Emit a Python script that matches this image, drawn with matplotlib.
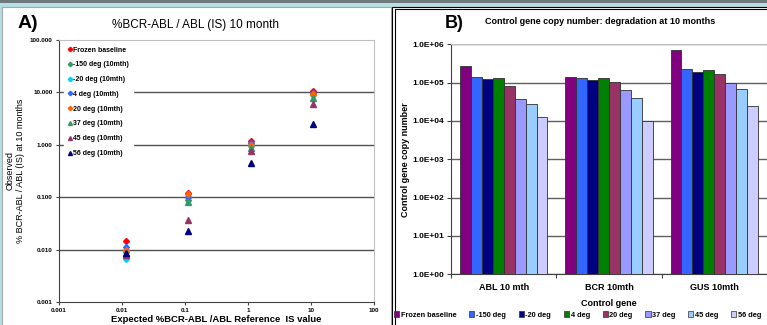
import matplotlib
matplotlib.use("Agg")
import matplotlib.pyplot as plt
from matplotlib.patches import Rectangle
import numpy as np

plt.rcParams['font.family'] = ['Liberation Sans', 'DejaVu Sans']

# ---- panel A data ----
expected = [0.0115, 0.112, 1.13, 10.6]
series_a = ['Frozen baseline', '-150 deg (10mth)', '-20 deg (10mth)', '4 deg (10mth)',
            '20 deg (10mth)', '37 deg (10mth)', '45 deg (10mth)', '56 deg (10mth)']
frozen = [0.0146, 0.119, 1.18, 10.6]
m150 = [0.0089, 0.089, 0.95, 8.9]
m20 = [0.0067, 0.100, 1.00, 9.2]
p4 = [0.0112, 0.103, 1.09, 9.6]
p20 = [0.0097, 0.116, 0.98, 9.3]
p37 = [0.0082, 0.082, 0.88, 7.7]
p45 = [0.0078, 0.036, 0.75, 5.9]
p56 = [0.0085, 0.0224, 0.445, 2.45]
obs = [frozen, m150, m20, p4, p20, p37, p45, p56]
colors_a = ['#ff0000', '#339966', '#00ccff', '#3366ff', '#ff6600', '#339966', '#993366', '#000080']
markers_a = ['D', 'D', 'D', 'D', 'D', '^', '^', '^']

# ---- panel B data ----
genes = ['ABL 10 mth', 'BCR 10mth', 'GUS 10mth']
series_b = ['Frozen baseline', '-150 deg', '-20 deg', '4 deg', '20 deg', '37 deg', '45 deg', '56 deg']
abl = [2.7e5, 1.43e5, 1.22e5, 1.3e5, 8.0e4, 3.7e4, 2.7e4, 1.27e4]
bcr = [1.38e5, 1.3e5, 1.17e5, 1.35e5, 1.02e5, 6.3e4, 3.9e4, 1.0e4]
gus = [6.9e5, 2.27e5, 1.9e5, 2.2e5, 1.65e5, 1.0e5, 6.7e4, 2.45e4]
copies = np.array([abl, bcr, gus])
colors_b = ['#800080', '#3366ff', '#000080', '#008000', '#993366', '#9999ff', '#99ccff', '#ccccff']

fig = plt.figure(figsize=(7.67, 3.25), dpi=100)
fig.patch.set_facecolor('#b5dfe2')
W, H = 767.0, 325.0

def rect(x, y, w, h, fc, ec='none', lw=0):
    fig.patches.append(Rectangle((x / W, 1 - (y + h) / H), w / W, h / H, transform=fig.transFigure,
                                 facecolor=fc, edgecolor=ec, linewidth=lw, zorder=-5))

rect(0, 0, 767, 2.5, '#6e797b')
rect(1.5, 7, 389, 330, 'white', '#a8a8a8', 0.8)
rect(392, 7, 380, 330, 'white', '#000000', 0.8)
rect(394.5, 9, 380, 330, 'white', '#000000', 0.8)

# ---------------- panel A ----------------
ax = fig.add_axes([59 / W, 1 - 302 / H, 315 / W, 262 / H])
ax.set_xscale('log')
ax.set_yscale('log')
ax.set_xlim(0.001, 100)
ax.set_ylim(0.001, 100)
for v in [10, 1, 0.1, 0.01]:
    ax.axhline(v, color='#505050', lw=1.0, zorder=1)
for vals, c, m, lab in zip(obs, colors_a, markers_a, series_a):
    ax.plot(expected, vals, linestyle='none', marker=m, color=c, ms=3.0 if m == 'D' else 3.8,
            mec=c, label=lab, zorder=3)
ax.set_xticks([0.001, 0.01, 0.1, 1, 10, 100])
ax.set_xticklabels(['0.001', '0.01', '0.1', '1', '10', '100'])
ax.set_yticks([0.001, 0.01, 0.1, 1, 10, 100])
ax.set_yticklabels(['0.001', '0.010', '0.100', '1.000', '10.000', '100.000'])
ax.minorticks_off()
ax.tick_params(labelsize=4.5, length=2.5, width=0.8, pad=2, color='#404040')
for t in ax.get_xticklabels() + ax.get_yticklabels():
    t.set_fontweight('bold')
for s in ['top', 'right']:
    ax.spines[s].set_color('#c0c0c0')
for s in ['left', 'bottom']:
    ax.spines[s].set_color('#404040')
leg = ax.legend(loc='upper left', bbox_to_anchor=(0.012, 0.995), frameon=True, fancybox=False,
                edgecolor='white', framealpha=1, prop={'size': 5, 'weight': 'bold'},
                handlelength=0.5, handletextpad=0.25, labelspacing=1.12, borderpad=0.6,
                borderaxespad=0.15, markerscale=0.75)
leg.set_zorder(5)
fig.text(18 / W, 1 - 23 / H, 'A)', fontsize=14, fontweight='bold', va='center', ha='left')
fig.text(196 / W, 1 - 25 / H, '%BCR-ABL / ABL (IS) 10 month', fontsize=8.5, va='center', ha='center')
fig.text(10 / W, 1 - 171 / H, 'Observed', fontsize=6.5, rotation=90, va='center', ha='center')
fig.text(20.5 / W, 1 - 171 / H, '% BCR-ABL / ABL (IS) at 10 months', fontsize=6.5, rotation=90,
         va='center', ha='center')
fig.text(216 / W, 1 - 319 / H, 'Expected %BCR-ABL /ABL Reference  IS value', fontsize=6.8,
         fontweight='bold', va='center', ha='center')

# ---------------- panel B ----------------
bx = fig.add_axes([451 / W, 1 - 274.3 / H, 316 / W, 230 / H])
bx.set_yscale('log')
bx.set_ylim(1, 1e6)
bx.set_xlim(0, 3)
bw = 0.104
for i, (col, lab) in enumerate(zip(colors_b, series_b)):
    xs = np.arange(len(genes)) + 0.5 + (i - 3.5) * bw
    bx.bar(xs, copies[:, i], width=bw, bottom=1, color=col, edgecolor='#303030', linewidth=0.6,
           label=lab, zorder=3)
bx.yaxis.grid(True, color='#606060', lw=1.0, zorder=0)
bx.set_axisbelow(True)
bx.set_yticks([1, 10, 100, 1e3, 1e4, 1e5, 1e6])
bx.set_yticklabels(['1.0E+00', '1.0E+01', '1.0E+02', '1.0E+03', '1.0E+04', '1.0E+05', '1.0E+06'])
bx.minorticks_off()
bx.set_xticks([0, 1, 2, 3])
bx.set_xticklabels([])
bx.set_xticks([0.5, 1.5, 2.5], minor=True)
bx.set_xticklabels(genes, minor=True)
bx.tick_params(axis='x', which='minor', length=0, labelsize=6.5, pad=6)
bx.tick_params(axis='x', which='major', length=3, width=0.8, color='#404040')
bx.tick_params(axis='y', labelsize=6, length=3, width=0.8, color='#404040', pad=2)
for t in bx.get_yticklabels() + bx.get_xticklabels(minor=True):
    t.set_fontweight('bold')
for s in ['top', 'right']:
    bx.spines[s].set_color('#c0c0c0')
for s in ['left', 'bottom']:
    bx.spines[s].set_color('#404040')
bx.set_xlabel('Control gene', fontsize=6.5, fontweight='bold', labelpad=5)
fig.text(405 / W, 1 - 160 / H, 'Control gene copy number', fontsize=6.5, fontweight='bold',
         rotation=90, va='center', ha='center')
fig.text(445 / W, 1 - 23 / H, 'B)', fontsize=13, fontweight='bold', va='center', ha='left')
fig.text(600 / W, 1 - 22 / H, 'Control gene copy number: degradation at 10 months', fontsize=6.5,
         fontweight='bold', va='center', ha='center')
handles = [Rectangle((0, 0), 1, 1, facecolor=c, edgecolor='#303030', lw=0.5) for c in colors_b]
fig.legend(handles, series_b, loc='center left', bbox_to_anchor=(394 / W, 1 - 315 / H), ncol=8,
           frameon=False, prop={'size': 5.3, 'weight': 'bold'}, handlelength=0.7, handleheight=0.7,
           handletextpad=0.2, columnspacing=1.75, borderaxespad=0, borderpad=0)

fig.savefig('out.png', dpi=100, facecolor=fig.get_facecolor())
